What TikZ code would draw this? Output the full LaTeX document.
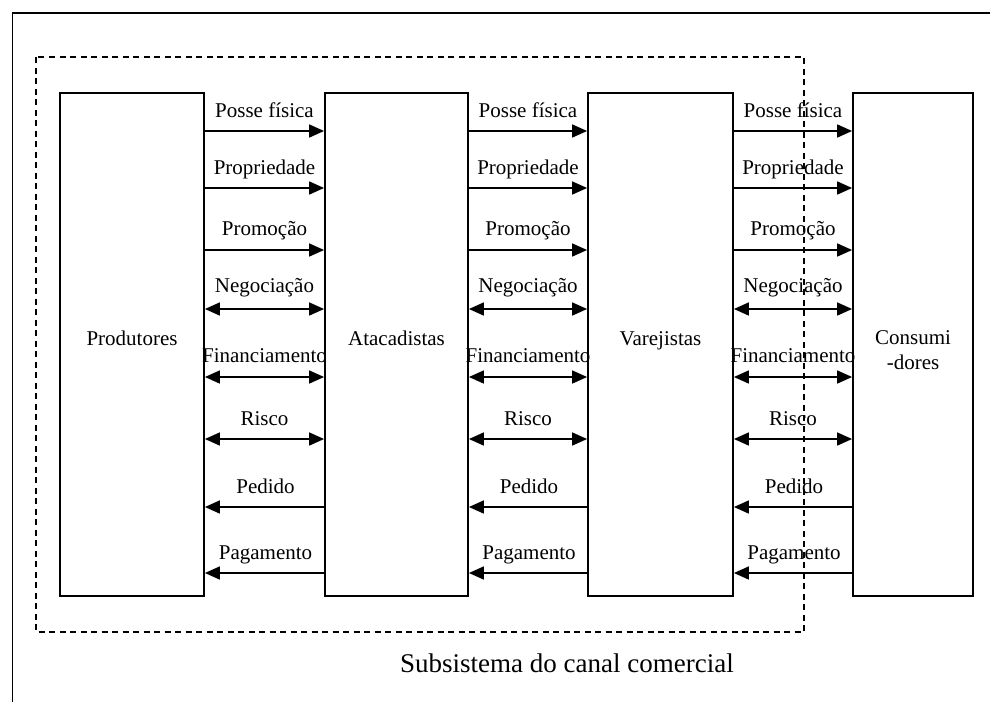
\documentclass[tikz,border=0pt]{standalone}
\usepackage{fontspec}
\setmainfont{Liberation Serif}
\usetikzlibrary{arrows.meta}
\begin{document}
\begin{tikzpicture}[x=1pt,y=-1pt,
  box/.style={draw,line width=1.8pt,minimum width=#1,inner sep=0pt},
  flow/.style={line width=1.6pt,-{Triangle[length=15pt,width=13pt]}},
  both/.style={line width=1.6pt,{Triangle[length=15pt,width=13pt]}-{Triangle[length=15pt,width=13pt]}},
  lbl/.style={anchor=base,inner sep=0pt,font=\fontsize{21}{25}\selectfont},
  blbl/.style={inner sep=0pt,anchor=base,align=center,font=\fontsize{21}{25}\selectfont}]
\useasboundingbox (0,0) rectangle (990,702);
% outer frame (top and left sides)
\draw[line width=1.8pt] (12.5,702) -- (12.5,13) -- (990,13);
% dashed subsystem
\draw[line width=1.6pt,dash pattern=on 6pt off 4.5pt] (36,57) rectangle (804,632);
% boxes
\node[box=144pt,minimum height=503pt] (P) at (132,344.5) {};
\node[box=143pt,minimum height=503pt] (A) at (396.5,344.5) {};
\node[box=145pt,minimum height=503pt] (V) at (660.5,344.5) {};
\node[box=120pt,minimum height=503pt] (C) at (913,344.5) {};
\node[blbl] (tP) at (132,345) {Produtores};
\node[blbl] (tA) at (396.5,345) {Atacadistas};
\node[blbl] (tV) at (660.5,345) {Varejistas};
\node[blbl] (tC) at (913,369) {Consumi\\-dores};
% flows
\foreach \l/\r/\n in {P/A/1,A/V/2,V/C/3}{
  \draw[flow] (\l.east |- 0,131) -- (\r.west |- 0,131) node[lbl,midway,yshift=14pt] (pf\n) {Posse física};
  \draw[flow] (\l.east |- 0,188) -- (\r.west |- 0,188) node[lbl,midway,yshift=14pt] (pr\n) {Propriedade};
  \draw[flow] (\l.east |- 0,250) -- (\r.west |- 0,250) node[lbl,midway,yshift=15pt] (pm\n) {Promoção};
  \draw[both] (\l.east |- 0,309) -- (\r.west |- 0,309) node[lbl,midway,yshift=17pt] (ng\n) {Negociação};
  \draw[both] (\l.east |- 0,377) -- (\r.west |- 0,377) node[lbl,midway,yshift=15pt] (fi\n) {Financiamento};
  \draw[both] (\l.east |- 0,439) -- (\r.west |- 0,439) node[lbl,midway,yshift=14pt] (ri\n) {Risco};
  \draw[flow] ([xshift=2pt]\r.west |- 0,507) -- (\l.east |- 0,507) node[lbl,midway,yshift=14pt] (pd\n) {Pedido};
  \draw[flow] ([xshift=2pt]\r.west |- 0,573) -- (\l.east |- 0,573) node[lbl,midway,yshift=14pt] (pg\n) {Pagamento};
}
\node[inner sep=0pt,font=\fontsize{27}{32}\selectfont] (sub) at (567,663) {Subsistema do canal comercial};
\end{tikzpicture}
\end{document}
